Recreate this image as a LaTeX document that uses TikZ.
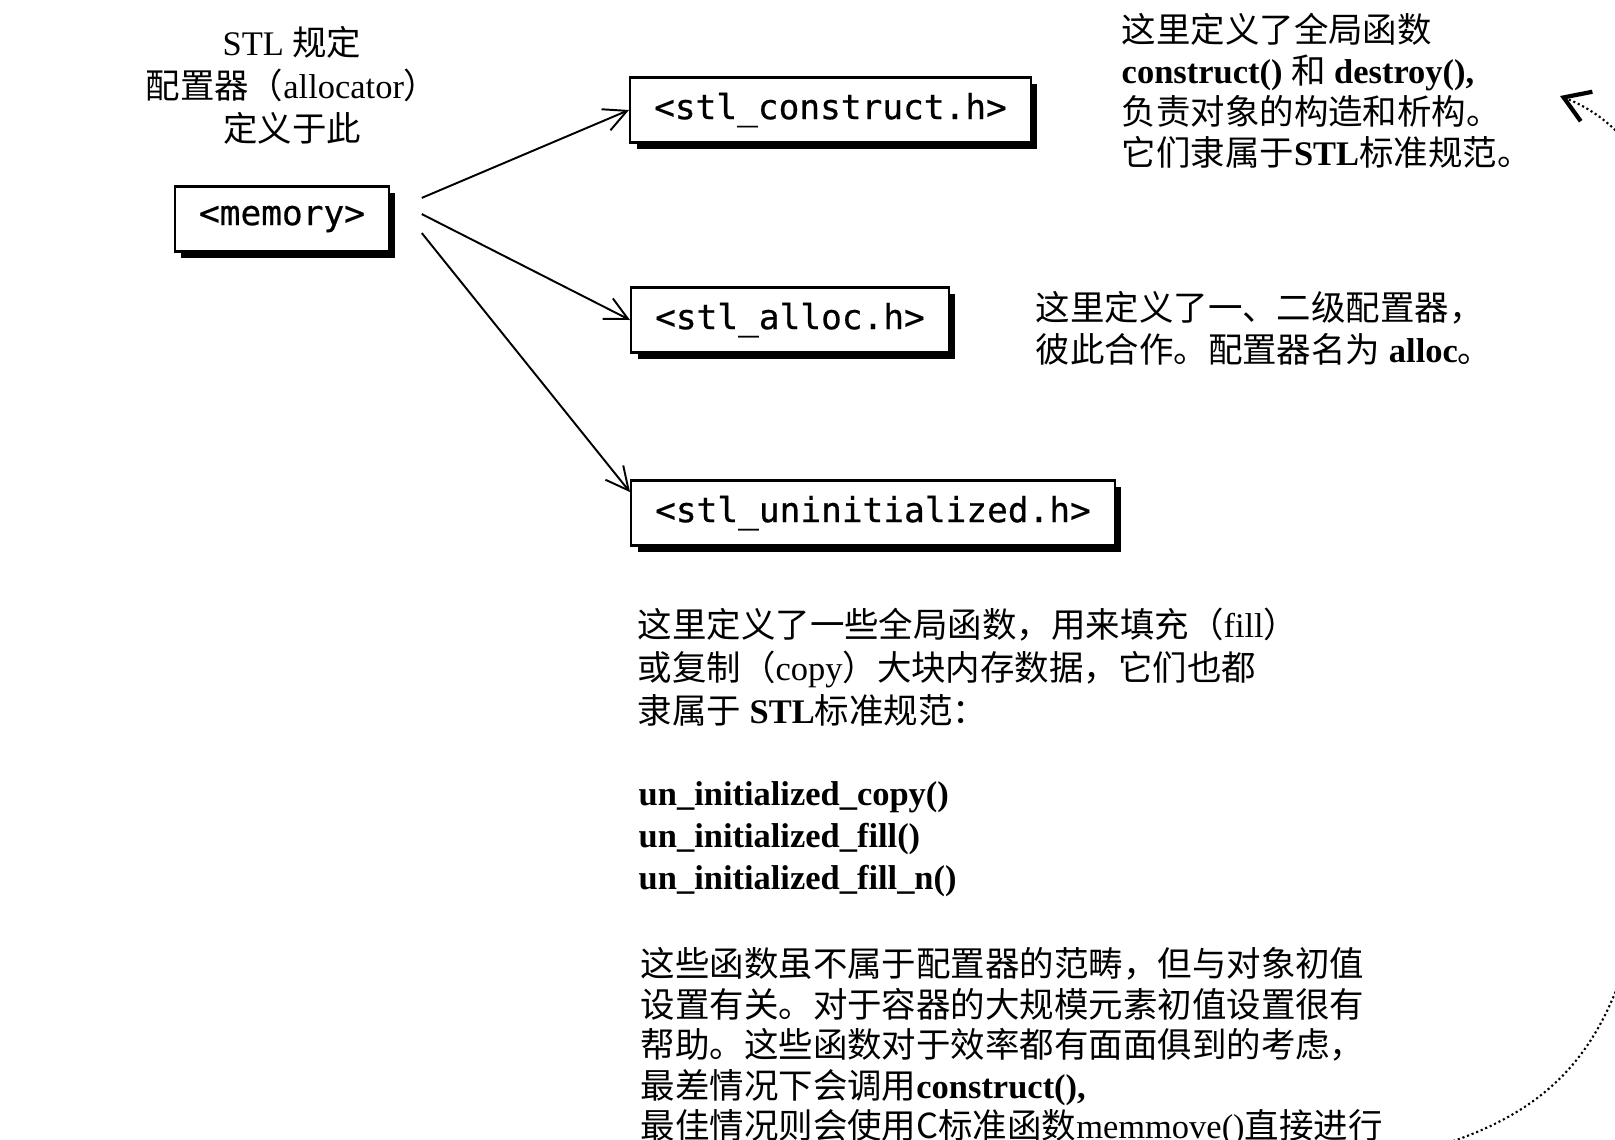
\documentclass[tikz,border=0pt]{standalone}
\usepackage{fontspec}
\setmainfont{Liberation Serif}
\newfontfamily\cjk{Noto Sans CJK SC}
\newfontfamily\hdrfont[FakeBold=0.6]{DejaVu Sans Mono}
\newcommand\zh[1]{{\cjk #1}}
\usetikzlibrary{arrows.meta,shadows}

\begin{document}
\begin{tikzpicture}[
  x=0.01cm, y=-0.01cm,
  font=\fontsize{9.8}{11.7}\selectfont,
  hfile/.style={draw,line width=0.7pt,fill=white,inner xsep=6.8pt,inner ysep=0pt,
                minimum height=18.6pt,font=\hdrfont\fontsize{9.8}{11}\selectfont,
                drop shadow={shadow xshift=1.8pt,shadow yshift=-1.8pt,fill=black,opacity=1}},
  note/.style={inner sep=0pt,align=left,anchor=north west},
  arr/.style={-{Straight Barb[length=6.5pt,width=6.5pt]},line width=0.55pt},
  dotlink/.style={line width=0.6pt,dash pattern=on 0.6pt off 0.8pt,
                  -{Straight Barb[length=7pt,width=9pt,line width=1.2pt]}}
]
\useasboundingbox (0,0) rectangle (1615,1139);
\clip (0,0) rectangle (1615,1139);
% ---------- header files ----------
\node[hfile] (memory) at (282,219) {<memory>};
\node[hfile,anchor=west] (construct) at (629,110) {<stl\_construct.h>};
\node[hfile,anchor=west] (alloc) at (630,320) {<stl\_alloc.h>};
\node[hfile,anchor=west] (uninit) at (630,513) {<stl\_uninitialized.h>};
% ---------- notes ----------
\node[note,align=center,anchor=north,font=\fontsize{9.8}{12.1}\selectfont] (memnote) at (292,26)
  {STL \zh{规定}\\\zh{配置器（}allocator\zh{）}\\\zh{定义于此}};
\node[note] (ctornote) at (1121,12)
  {\zh{这里定义了全局函数}\\
   \textbf{construct()} \zh{和} \textbf{destroy(),}\\
   \zh{负责对象的构造和析构。}\\
   \zh{它们隶属于}\textbf{STL}\zh{标准规范。}};
\node[note] (allocnote) at (1035,291)
  {\zh{这里定义了一、二级配置器，}\\
   \zh{彼此合作。配置器名为} \textbf{alloc}\zh{。}};
\node[note,font=\fontsize{9.8}{12.2}\selectfont] (uninote) at (637,607)
  {\zh{这里定义了一些全局函数，用来填充（}fill\zh{）}\\
   \zh{或复制（}copy\zh{）大块内存数据，它们也都}\\
   \zh{隶属于} \textbf{STL}\zh{标准规范：}};
\node[note,font=\bfseries\fontsize{9.8}{11.9}\selectfont] (funcs) at (638,781)
  {un\_initialized\_copy()\\
   un\_initialized\_fill()\\
   un\_initialized\_fill\_n()};
\node[note,font=\fontsize{9.8}{11.5}\selectfont] (effnote) at (640,947)
  {\zh{这些函数虽不属于配置器的范畴，但与对象初值}\\
   \zh{设置有关。对于容器的大规模元素初值设置很有}\\
   \zh{帮助。这些函数对于效率都有面面俱到的考虑，}\\
   \zh{最差情况下会调用}\textbf{construct(),}\\
   \zh{最佳情况则会使用C标准函数}memmove()\zh{直接进行}};
% ---------- links ----------
\draw[arr] ([xshift=9pt,yshift=6pt]memory.east) -- (construct.west);
\draw[arr] ([xshift=9pt,yshift=1.4pt]memory.east) -- (alloc.west);
\draw[arr] ([xshift=9pt,yshift=-4pt]memory.east) -- ([yshift=-3.7pt]uninit.north west);
\coordinate (offpage) at (1425,1150);
\coordinate (tip) at (1560,96);
\draw[dotlink] (offpage) .. controls (1600,1100) and (1645,1000) .. (1665,700)
  .. controls (1700,400) and (1712,156) .. (tip);
\end{tikzpicture}
\end{document}
